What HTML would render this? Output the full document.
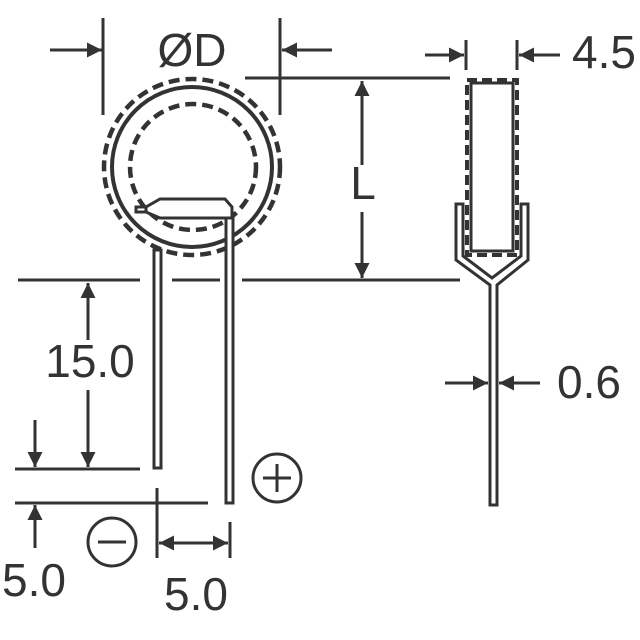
<!DOCTYPE html><html><head><style>body{margin:0;background:#fff}svg{display:block}text{font-family:"Liberation Sans",sans-serif;fill:#333;font-size:46px}</style></head><body>
<svg width="640" height="640" viewBox="0 0 640 640" stroke="#333" fill="none" stroke-width="3">
<defs><marker id="a" viewBox="0 0 10 10" refX="10" refY="5" markerWidth="5" markerHeight="5" orient="auto-start-reverse"><path d="M0,0L10,5L0,10z" fill="#333" stroke="none"/></marker></defs>
<circle cx="192" cy="167" r="88" stroke-width="4.5" stroke-dasharray="11 6"/>
<circle cx="192" cy="167" r="80" stroke-width="4"/>
<circle cx="193" cy="167" r="63" stroke-width="4.5" stroke-dasharray="11 6"/>
<path d="M160,199H225L232,207V218H160L146,212V207Z" fill="#fff"/>
<rect x="136" y="207" width="10" height="5" fill="#fff"/>
<rect x="154" y="250" width="7" height="218" fill="#fff"/>
<rect x="226" y="218" width="7" height="285" fill="#fff"/>
<path d="M103,18V115M280,18V115M245,78H450M18,280H140M172,280H220M242,280H460M15,469H140M15,503H208M157,488V558M230,522V558"/>
<path d="M50,50H102" marker-end="url(#a)"/><path d="M332,50H282" marker-end="url(#a)"/>
<path d="M362,165V81" marker-end="url(#a)"/><path d="M362,212V278" marker-end="url(#a)"/>
<path d="M88,340V283" marker-end="url(#a)"/><path d="M88,390V467" marker-end="url(#a)"/>
<path d="M35,420V467" marker-end="url(#a)"/><path d="M35,548V505" marker-end="url(#a)"/>
<path d="M159,543H228" marker-start="url(#a)" marker-end="url(#a)"/>
<path d="M466,40V70M517,40V70"/>
<path d="M425,55H464" marker-end="url(#a)"/><path d="M560,55H519" marker-end="url(#a)"/>
<path d="M445,383H488" marker-end="url(#a)"/><path d="M540,383H499" marker-end="url(#a)"/>
<rect x="467" y="80" width="50" height="175" stroke-width="4" stroke-dasharray="10 5"/>
<rect x="471" y="83" width="42" height="168"/>
<path d="M456,204H463V256L492,278L521,256V204H528V260L497,285V505H490V285L456,260Z"/>
<circle cx="277" cy="478" r="24"/><path d="M263,478H291M277,464V492"/>
<circle cx="112" cy="542" r="24"/><path d="M98,542H126"/>
<g stroke="none">
<text x="192" y="66" text-anchor="middle">ØD</text>
<text x="363" y="199" text-anchor="middle">L</text>
<text x="90" y="377" text-anchor="middle">15.0</text>
<text x="34" y="596" text-anchor="middle">5.0</text>
<text x="196" y="610" text-anchor="middle">5.0</text>
<text x="604" y="68" text-anchor="middle">4.5</text>
<text x="589" y="398" text-anchor="middle">0.6</text>
</g>
</svg></body></html>
